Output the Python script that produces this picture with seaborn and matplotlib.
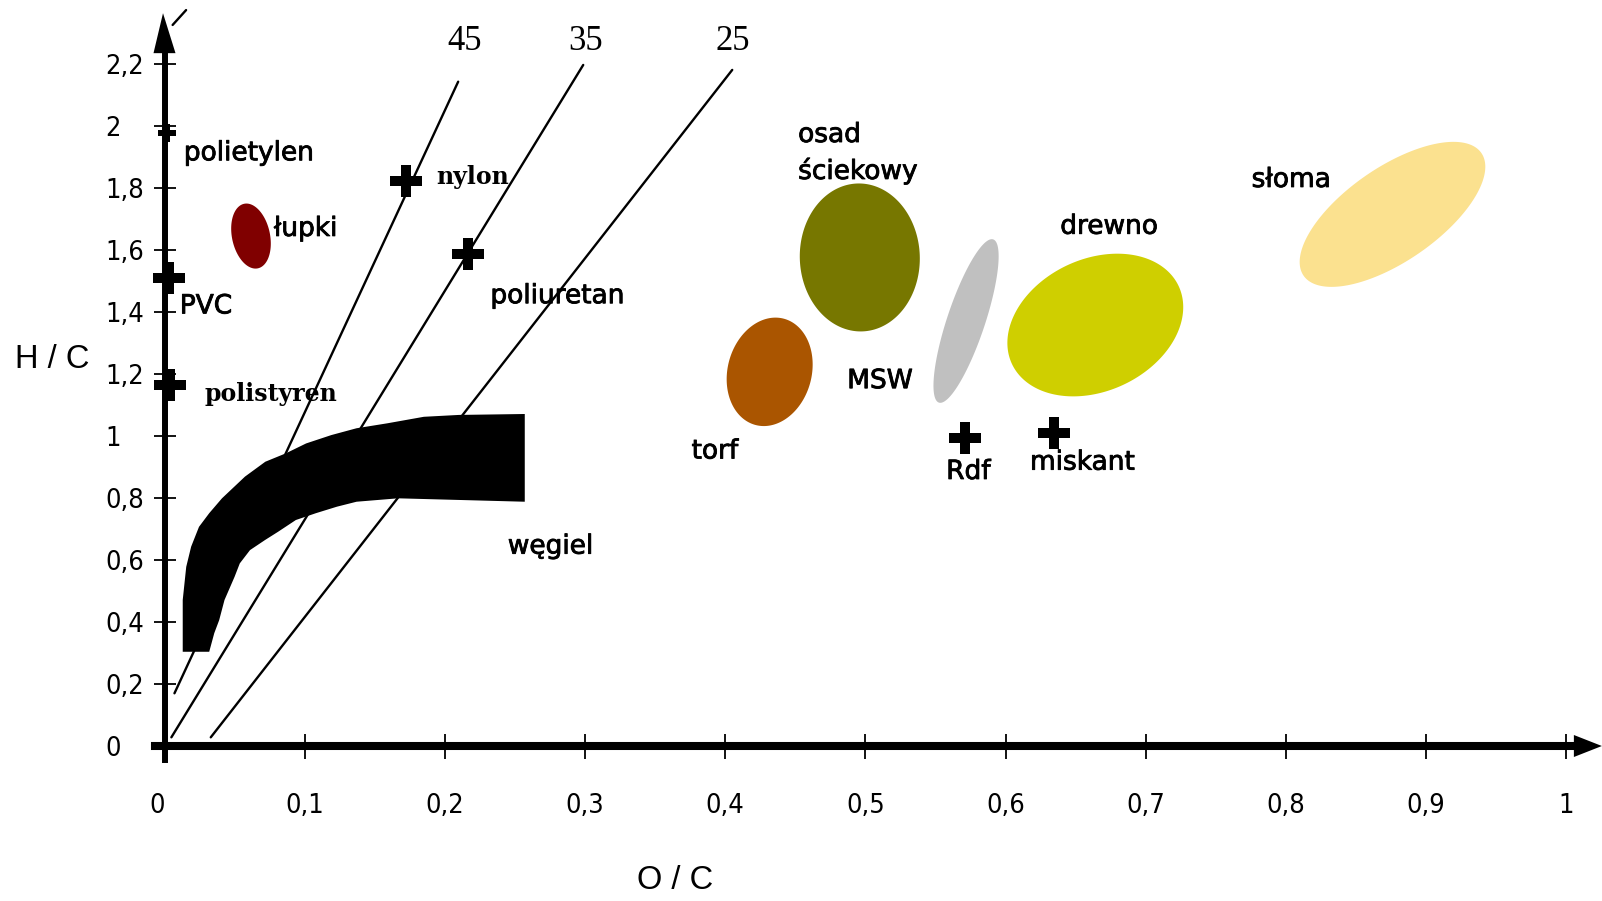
import numpy as np
import pandas as pd
import matplotlib
matplotlib.use("Agg")
import matplotlib.pyplot as plt
import matplotlib.patheffects as pe
from matplotlib import font_manager
import seaborn as sns

# ---------------- data (O/C, H/C) ----------------
point_names = ["polietylen", "PVC", "polistyren", "nylon", "poliuretan", "Rdf", "miskant"]
point_oc = [0.0021, 0.0034, 0.0039, 0.1723, 0.2165, 0.5708, 0.6344]
point_hc = [1.976, 1.511, 1.165, 1.823, 1.587, 0.993, 1.011]

region_names = ["łupki", "osad ściekowy", "torf", "MSW", "drewno", "słoma"]
region_oc = [0.0617, 0.496, 0.4317, 0.5718, 0.664, 0.876]
region_hc = [1.645, 1.576, 1.207, 1.371, 1.358, 1.715]
region_colors = ["#800000", "#777700", "#aa5500", "#c0c0c0", "#cfcf00", "#fbe18f"]

# coal band (węgiel): upper boundary then lower boundary
coal_upper_oc = [0.013, 0.013, 0.0155, 0.019, 0.0246, 0.0319, 0.041, 0.0574, 0.0719,
                 0.0865, 0.101, 0.119, 0.137, 0.159, 0.185, 0.210, 0.257]
coal_upper_hc = [0.304, 0.471, 0.578, 0.643, 0.707, 0.751, 0.799, 0.869, 0.917,
                 0.944, 0.976, 1.003, 1.025, 1.041, 1.062, 1.068, 1.071]
coal_lower_oc = [0.257, 0.1666, 0.137, 0.123, 0.108, 0.0937, 0.081, 0.0719, 0.061,
                 0.0537, 0.050, 0.0428, 0.039, 0.0355, 0.0319]
coal_lower_hc = [0.788, 0.799, 0.788, 0.772, 0.751, 0.729, 0.691, 0.665, 0.632,
                 0.589, 0.546, 0.471, 0.406, 0.364, 0.304]

# iso-lines 45 / 35 / 25
iso_labels = ["45", "35", "25"]
iso_oc_start = [0.0071, 0.0049, 0.033]
iso_hc_start = [0.170, 0.028, 0.028]
iso_oc_end = [0.2095, 0.2987, 0.405]
iso_hc_end = [2.143, 2.197, 2.181]

x_ticks = [0, 0.1, 0.2, 0.3, 0.4, 0.5, 0.6, 0.7, 0.8, 0.9, 1.0]
x_tick_labels = ["0", "0,1", "0,2", "0,3", "0,4", "0,5", "0,6", "0,7", "0,8", "0,9", "1"]
y_ticks = [0, 0.2, 0.4, 0.6, 0.8, 1.0, 1.2, 1.4, 1.6, 1.8, 2.0, 2.2]
y_tick_labels = ["0", "0,2", "0,4", "0,6", "0,8", "1", "1,2", "1,4", "1,6", "1,8", "2", "2,2"]

# ---------------- style ----------------
sns.set_theme(style="white")
plt.rcParams["font.family"] = ["DejaVu Sans"]

tick_font = font_manager.FontProperties(family=["DejaVu Sans"], stretch="condensed", size=19.5)

fig = plt.figure(figsize=(16.02, 9.01), dpi=100)
ax = fig.add_axes([0, 0, 1, 1])
ax.set_xlim(-0.11735, 1.02546)
ax.set_ylim(-0.5, 2.4065)
ax.set_facecolor("white")

def px2data(points):
    return ax.transData.inverted().transform(np.asarray(points))

# iso lines
iso_df = pd.DataFrame({
    "oc": [v for pair in zip(iso_oc_start, iso_oc_end) for v in pair],
    "hc": [v for pair in zip(iso_hc_start, iso_hc_end) for v in pair],
    "line": [lab for lab in iso_labels for _ in range(2)],
})
sns.lineplot(data=iso_df, x="oc", y="hc", units="line", estimator=None, sort=False,
             color="black", lw=1.7, ax=ax, zorder=2)
# small stray stroke near the arrow
ax.plot([0.0058, 0.0154], [2.326, 2.374], color="black", lw=1.7, zorder=2)

# regions (ellipses): shape in pixel units
region_shape = {  # semi-major px, semi-minor px, angle deg
    "łupki": (33, 19, 102), "osad ściekowy": (74, 60, 92), "torf": (55, 42, 75),
    "MSW": (86, 19, 71.6), "drewno": (92, 66, 25), "słoma": (108, 47, 34.6),
}
t = np.linspace(0, 2 * np.pi, 240)
for name, cx, cy, col in zip(region_names, region_oc, region_hc, region_colors):
    a, b, ang = region_shape[name]
    c = ax.transData.transform((cx, cy))
    th = np.deg2rad(ang)
    px = c[0] + a * np.cos(t) * np.cos(th) - b * np.sin(t) * np.sin(th)
    py = c[1] + a * np.cos(t) * np.sin(th) + b * np.sin(t) * np.cos(th)
    d = px2data(np.column_stack([px, py]))
    ax.fill(d[:, 0], d[:, 1], color=col, lw=0, zorder=1)

# coal band
coal_oc = coal_upper_oc + coal_lower_oc
coal_hc = coal_upper_hc + coal_lower_hc
ax.fill(coal_oc, coal_hc, color="black", lw=0, zorder=3)

# point markers
pts = pd.DataFrame({"oc": point_oc, "hc": point_hc, "name": point_names})
sns.scatterplot(data=pts.iloc[1:], x="oc", y="hc", marker="P", s=560, color="black",
                linewidth=0, ax=ax, zorder=5)
sns.scatterplot(data=pts.iloc[:1], x="oc", y="hc", marker="P", s=170, color="black",
                linewidth=0, ax=ax, zorder=5)

# ---------------- axes ----------------
for s in ["top", "right"]:
    ax.spines[s].set_visible(False)
ax.spines["left"].set_position(("data", 0))
ax.spines["bottom"].set_position(("data", 0))
ax.spines["left"].set_bounds(-0.045, 2.24)
ax.spines["bottom"].set_bounds(-0.0068, 1.006)
ax.spines["left"].set_linewidth(4.3)
ax.spines["bottom"].set_linewidth(5.8)
ax.spines["left"].set_color("black")
ax.spines["bottom"].set_color("black")
ax.spines["left"].set_zorder(6)
ax.spines["bottom"].set_zorder(6)

# arrow heads
ya = ax.transData.transform((0, 2.235))
tri = px2data([(ya[0] - 11, ya[1]), (ya[0] + 11, ya[1]), (ya[0] - 1.5, ya[1] + 40)])
ax.fill(tri[:, 0], tri[:, 1], color="black", lw=0, zorder=6, clip_on=False)
xa = ax.transData.transform((1.0054, 0))
tri = px2data([(xa[0], xa[1] - 11), (xa[0], xa[1] + 11), (xa[0] + 28, xa[1])])
ax.fill(tri[:, 0], tri[:, 1], color="black", lw=0, zorder=6, clip_on=False)

ax.set_xticks(x_ticks, x_tick_labels)
ax.set_yticks(y_ticks, y_tick_labels)
ax.tick_params(axis="x", bottom=True, direction="inout", length=18, width=1.3,
               pad=25, colors="black")
ax.tick_params(axis="y", left=True, direction="inout", length=16.5, width=1.3,
               pad=34.5, colors="black")
for lbl in ax.get_xticklabels():
    lbl.set_fontproperties(tick_font)
ax.get_xticklabels()[0].set_ha("right")
for lbl in ax.get_yticklabels():
    lbl.set_fontproperties(tick_font)
    lbl.set_ha("left")
ax.set_xlabel("")
ax.set_ylabel("")
ax.grid(False)

# ---------------- labels ----------------
bold_fx = [pe.withStroke(linewidth=0.6, foreground="black")]
SANS = dict(fontsize=19, family="DejaVu Sans", color="black", va="center",
            path_effects=bold_fx)
SERIF_B = dict(fontsize=17, family="DejaVu Serif", weight="bold", color="black", va="center")
label_spec = [
    ("polietylen", 0.0138, 1.912, "left", SANS),
    ("PVC", 0.0109, 1.418, "left", SANS),
    ("polistyren", 0.0284, 1.137, "left", SERIF_B),
    ("nylon", 0.1939, 1.836, "left", SERIF_B),
    ("poliuretan", 0.2325, 1.451, "left", SANS),
    ("łupki", 0.078, 1.668, "left", SANS),
    ("osad", 0.452, 1.971, "left", SANS),
    ("ściekowy", 0.452, 1.855, "left", SANS),
    ("słoma", 0.7755, 1.826, "left", SANS),
    ("drewno", 0.639, 1.675, "left", SANS),
    ("MSW", 0.487, 1.177, "left", SANS),
    ("torf", 0.376, 0.950, "left", SANS),
    ("Rdf", 0.5735, 0.884, "center", SANS),
    ("miskant", 0.6174, 0.914, "left", SANS),
    ("węgiel", 0.2449, 0.643, "left", SANS),
]
for txt, x, y, ha, style in label_spec:
    ax.text(x, y, txt, ha=ha, zorder=7, **style)

for lab, x in zip(iso_labels, [0.2143, 0.3003, 0.4053]):
    ax.text(x, 2.274, lab, ha="center", va="center", fontsize=25,
            family="Liberation Serif", color="black")

ax.text(-0.1064, 1.246, "H / C", ha="left", va="center", fontsize=23.5,
        family="Liberation Sans", color="black")
ax.text(0.3644, -0.435, "O / C", ha="center", va="center", fontsize=23.5,
        family="Liberation Sans", color="black")

fig.savefig("out.png", dpi=100, facecolor="white")
